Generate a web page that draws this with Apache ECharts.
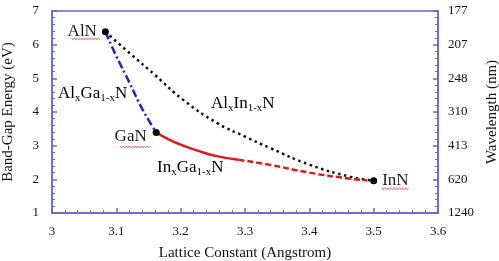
<!DOCTYPE html>
<html>
<head>
<meta charset="utf-8">
<script src="https://cdn.jsdelivr.net/npm/echarts@6/dist/echarts.min.js"></script>
<style>
  html, body { margin: 0; padding: 0; background: #fff; }
  #chart { width: 499px; height: 261px; }
</style>
</head>
<body>
<div id="chart"></div>
<script>
// binary nitrides
const compounds = ["AlN", "GaN", "InN"];
const latticeConst = [3.083, 3.162, 3.5];
const bandGap = [6.38, 3.39, 1.96];

// AlxGa1-xN
const alGaN_a = [3.083, 3.100, 3.121, 3.140, 3.162];
const alGaN_e = [6.38, 5.66, 4.85, 4.10, 3.39];

// AlxIn1-xN
const alInN_a = [3.083, 3.12, 3.16, 3.204, 3.257, 3.30, 3.339, 3.401, 3.463, 3.5];
const alInN_e = [6.38, 5.76, 5.10, 4.36, 3.67, 3.27, 2.93, 2.43, 2.08, 1.96];

// InxGa1-xN (solid part, then dashed part)
const inGaN_a = [3.162, 3.18, 3.204, 3.23, 3.256, 3.29];
const inGaN_e = [3.39, 3.20, 3.00, 2.83, 2.69, 2.58];
const inGaNDash_a = [3.29, 3.339, 3.40, 3.463, 3.49];
const inGaNDash_e = [2.58, 2.43, 2.20, 2.02, 1.97];

// right axis: wavelength (nm) for 1..7 eV
const wavelengthLabels = ["1240", "620", "413", "310", "248", "207", "177"];

const zip = (xs, ys) => xs.map((x, i) => [x, ys[i]]);

const SERIF = "'Liberation Serif', 'DejaVu Serif', serif";
const AXIS = "#6666cc";

const chart = echarts.init(document.getElementById("chart"));

const axisCommon = {
  axisLine: { show: true, lineStyle: { color: AXIS, width: 1.5 } },
  axisTick: { show: true, inside: true, length: 5, lineStyle: { color: AXIS, width: 1.5 } },
  minorTick: { show: true, splitNumber: 5, length: 3, lineStyle: { color: AXIS, width: 1 } },
  splitLine: { show: false },
  axisLabel: { fontFamily: SERIF, fontSize: 13, color: "#111" },
  nameTextStyle: { fontFamily: SERIF, fontSize: 15, color: "#111" },
  nameLocation: "middle",
};

const option = {
  animation: false,
  backgroundColor: "#fff",
  grid: {
    left: 52, right: 61, top: 11, bottom: 48,
    outerBoundsMode: "none", containLabel: false,
    show: true, borderColor: AXIS, borderWidth: 1.5,
  },
  xAxis: Object.assign({}, axisCommon, {
    type: "value", min: 3, max: 3.6, interval: 0.1,
    name: "Lattice Constant (Angstrom)", nameGap: 33,
    axisLabel: Object.assign({}, axisCommon.axisLabel, { margin: 12 }),
  }),
  yAxis: [
    Object.assign({}, axisCommon, {
      type: "value", min: 1, max: 7, interval: 1,
      name: "Band-Gap Energy (eV)", nameGap: 36,
      axisLabel: Object.assign({}, axisCommon.axisLabel, { margin: 13 }),
    }),
    Object.assign({}, axisCommon, {
      type: "value", min: 1, max: 7, interval: 1, position: "right",
      name: "Wavelength (nm)", nameGap: 38, nameRotate: 90,
      axisLabel: Object.assign({}, axisCommon.axisLabel, {
        margin: 10,
        formatter: (v) => wavelengthLabels[Math.round(v) - 1],
      }),
    }),
  ],
  series: [
    {
      type: "line", data: zip(alGaN_a, alGaN_e), smooth: true, symbol: "none",
      lineStyle: { color: "#2020c8", width: 2.5, type: [8, 3, 2, 3] },
    },
    {
      type: "line", data: zip(alInN_a, alInN_e), smooth: true, symbol: "none",
      lineStyle: { color: "#111", width: 2.5, type: [2.5, 3.5] },
    },
    {
      type: "line", data: zip(inGaN_a, inGaN_e), smooth: true, symbol: "none",
      lineStyle: { color: "#dd1a1a", width: 2.5 },
    },
    {
      type: "line", data: zip(inGaNDash_a, inGaNDash_e), smooth: true, symbol: "none",
      lineStyle: { color: "#dd1a1a", width: 2.5, type: [6, 3] },
    },
    {
      type: "scatter", symbol: "circle", symbolSize: 7, z: 5,
      itemStyle: { color: "#000", opacity: 1 },
      data: compounds.map((c, i) => ({
        name: c,
        value: [latticeConst[i], bandGap[i]],
        label: {
          show: true, formatter: "{b}",
          fontFamily: SERIF, fontSize: 17, color: "#1a1a1a",
          position: i === 2 ? "right" : "left",
          distance: i === 1 ? 6 : 5,
          offset: i === 1 ? [0, 4] : [0, 0],
        },
      })),
    },
  ],
};
chart.setOption(option);

// alloy labels and spell-check squiggles
const rich = (color) => ({
  m: { fontFamily: SERIF, fontSize: 17, color: color, lineHeight: 20 },
  s: { fontFamily: SERIF, fontSize: 11, color: color, lineHeight: 11, verticalAlign: "bottom" },
});
const alloyText = (x, y, text, color) => ({
  type: "text", x: x, y: y, z: 10,
  style: { text: text, rich: rich(color), verticalAlign: "top" },
});

const wavy = (x0, x1, y) => {
  const pts = [];
  let up = true;
  for (let x = x0; x <= x1; x += 1.5) {
    pts.push([x, y + (up ? -1 : 1)]);
    up = !up;
  }
  return {
    type: "polyline", z: 10, silent: true,
    shape: { points: pts },
    style: { stroke: "#e04848", lineWidth: 0.8, fill: null },
  };
};

const px = compounds.map((c, i) => chart.convertToPixel({ gridIndex: 0 }, [latticeConst[i], bandGap[i]]));

chart.setOption({
  graphic: [
    alloyText(58, 84, "{m|Al}{s|x}{m|Ga}{s|1-x}{m|N}", "#4848b8"),
    alloyText(211, 94, "{m|Al}{s|x}{m|In}{s|1-x}{m|N}", "#222"),
    alloyText(157, 158, "{m|In}{s|x}{m|Ga}{s|1-x}{m|N}", "#dd2222"),
    wavy(px[0][0] - 34, px[0][0] - 5, px[0][1] + 7),
    wavy(px[1][0] - 36, px[1][0] - 6, px[1][1] + 14.5),
    wavy(px[2][0] + 8, px[2][0] + 36, px[2][1] + 8),
  ],
});
</script>
</body>
</html>
